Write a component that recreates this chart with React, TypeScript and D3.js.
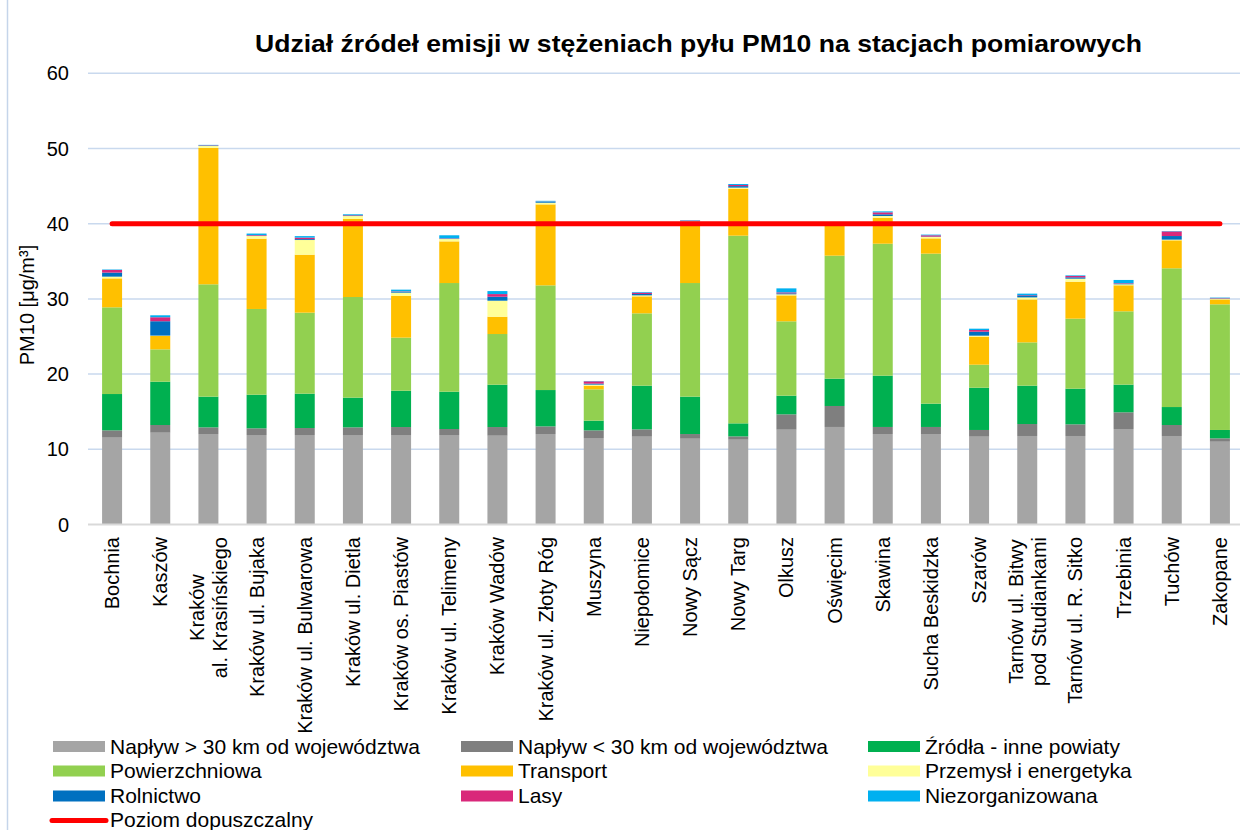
import React from "react";
import * as d3 from "d3";

const categories: string[] = [
  "Bochnia",
  "Kaszów",
  "Kraków\nal. Krasińskiego",
  "Kraków ul. Bujaka",
  "Kraków ul. Bulwarowa",
  "Kraków ul. Dietla",
  "Kraków os. Piastów",
  "Kraków ul. Telimeny",
  "Kraków Wadów",
  "Kraków ul. Złoty Róg",
  "Muszyna",
  "Niepołomice",
  "Nowy Sącz",
  "Nowy Targ",
  "Olkusz",
  "Oświęcim",
  "Skawina",
  "Sucha Beskidzka",
  "Szarów",
  "Tarnów ul. Bitwy\npod Studiankami",
  "Tarnów ul. R. Sitko",
  "Trzebinia",
  "Tuchów",
  "Zakopane",
];

const naplywPonad30: number[] = [11.55, 12.21, 12.03, 11.9, 11.9, 11.9, 11.9, 11.9, 11.81, 12.03, 11.5, 11.68, 11.41, 11.28, 12.61, 12.97, 12.03, 12.03, 11.68, 11.77, 11.77, 12.7, 11.77, 11.01];
const naplywPonizej30: number[] = [0.97, 1.02, 0.89, 0.89, 0.93, 1.02, 1.06, 0.8, 1.15, 1.02, 1.02, 0.97, 0.62, 0.44, 2.04, 2.79, 0.94, 0.94, 0.89, 1.59, 1.55, 2.22, 1.46, 0.45];
const zrodlaInnePowiaty: number[] = [4.83, 5.76, 4.08, 4.47, 4.57, 3.95, 4.83, 4.96, 5.63, 4.83, 1.29, 5.81, 4.97, 1.73, 2.48, 3.63, 6.82, 3.1, 5.62, 5.1, 4.74, 3.68, 2.39, 1.11];
const powierzchniowa: number[] = [11.53, 4.3, 14.94, 11.4, 10.77, 13.38, 7.06, 14.45, 6.74, 13.92, 4.16, 9.62, 15.11, 24.96, 9.89, 16.36, 17.55, 19.95, 3.06, 5.76, 9.31, 9.75, 18.45, 16.71];
const transport: number[] = [3.85, 1.78, 18.13, 9.35, 7.71, 10.38, 5.54, 5.54, 2.3, 10.77, 0.49, 2.26, 8.16, 6.25, 3.45, 4.15, 3.46, 2.03, 3.73, 5.71, 4.92, 3.46, 3.72, 0.65];
const przemysl: number[] = [0.23, 0.05, 0.26, 0.35, 1.95, 0.39, 0.44, 0.31, 2.13, 0.22, 0.14, 0.13, 0.05, 0.14, 0.14, 0.05, 0.22, 0.18, 0.13, 0.27, 0.4, 0.13, 0.09, 0.1];
const rolnictwo: number[] = [0.54, 1.91, 0.05, 0.05, 0.12, 0.08, 0.13, 0.05, 0.53, 0.1, 0.13, 0.18, 0.05, 0.2, 0.13, 0.05, 0.23, 0.05, 0.53, 0.27, 0.18, 0.05, 0.48, 0.05];
const lasy: number[] = [0.35, 0.53, 0.05, 0.08, 0.2, 0.05, 0.05, 0.05, 0.35, 0.05, 0.31, 0.18, 0.05, 0.15, 0.13, 0.05, 0.26, 0.18, 0.22, 0.05, 0.18, 0.09, 0.62, 0.05];
const niezorganizowana: number[] = [0.06, 0.26, 0.05, 0.2, 0.2, 0.1, 0.22, 0.4, 0.4, 0.1, 0.04, 0.09, 0.05, 0.13, 0.53, 0.05, 0.13, 0.09, 0.18, 0.18, 0.08, 0.44, 0.05, 0.05];

const limitValue = 40;
const yTicks: number[] = [0, 10, 20, 30, 40, 50, 60];

const seriesNames: string[] = [
  "Napływ > 30 km od województwa",
  "Napływ < 30 km od województwa",
  "Źródła - inne powiaty",
  "Powierzchniowa",
  "Transport",
  "Przemysł i energetyka",
  "Rolnictwo",
  "Lasy",
  "Niezorganizowana",
];
const seriesValues: number[][] = [
  naplywPonad30,
  naplywPonizej30,
  zrodlaInnePowiaty,
  powierzchniowa,
  transport,
  przemysl,
  rolnictwo,
  lasy,
  niezorganizowana,
];
const seriesColors: string[] = [
  "#a5a5a5",
  "#7f7f7f",
  "#00b050",
  "#92d050",
  "#ffc000",
  "#ffff99",
  "#0070c0",
  "#d9287a",
  "#00b0f0",
];
const limitName = "Poziom dopuszczalny";
const titleText = "Udział źródeł emisji w stężeniach pyłu PM10 na stacjach pomiarowych";

const FONT = "'Liberation Sans', Arial, Helvetica, sans-serif";

let measureCtx: CanvasRenderingContext2D | null = null;
function measure(text: string, size: number): number {
  if (!measureCtx) {
    const c = document.createElement("canvas");
    measureCtx = c.getContext("2d");
  }
  if (!measureCtx) return text.length * size * 0.5;
  measureCtx.font = `${size}px ${FONT}`;
  return measureCtx.measureText(text).width;
}

export default function App() {
  const W = 1240;
  const H = 830;
  const x = d3
    .scaleBand<number>()
    .domain(categories.map((_, i) => i))
    .range([88, 1244])
    .paddingInner(0.585)
    .paddingOuter(0.2925);
  const y = d3.scaleLinear().domain([0, 60]).range([524.5, 73.3]);

  const table = categories.map((_, i) => {
    const row: Record<string, number> = { idx: i };
    seriesNames.forEach((s, k) => (row[s] = seriesValues[k][i]));
    return row;
  });
  const stacked = d3.stack<Record<string, number>>().keys(seriesNames)(table);

  const bw = x.bandwidth();
  const cx = (i: number) => (x(i) as number) + bw / 2;

  const labelSize = 20;
  const labelTop = 537;
  const lineGap = 22.5;

  const legendCols = [53, 461, 868];
  const legendRows = [746.5, 771, 796, 820.5];

  return (
    <div style={{ position: "absolute", left: 0, top: 0 }}>
      <svg width={W} height={H} style={{ display: "block", background: "#fff" }} fontFamily={FONT}>
        <rect x={0} y={0} width={W} height={H} fill="#fff" />
        <line x1={7.5} x2={7.5} y1={0} y2={H} stroke="#c5d5ea" strokeWidth={1.5} />
        {/* gridlines */}
        {yTicks.slice(1).map((t) => (
          <line key={t} x1={88} x2={W} y1={y(t)} y2={y(t)} stroke="#c9d9ee" strokeWidth={1.5} />
        ))}
        {/* bars */}
        {stacked.map((layer, k) => (
          <g key={layer.key} fill={seriesColors[k]}>
            {layer.map((d, i) => (
              <rect
                key={i}
                x={x(i) as number}
                width={bw}
                y={y(d[1])}
                height={Math.max(0, y(d[0]) - y(d[1]))}
              />
            ))}
          </g>
        ))}
        {/* x axis */}
        <line x1={88} x2={W} y1={y(0)} y2={y(0)} stroke="#d9d9d9" strokeWidth={2} />
        {/* limit line */}
        <line
          x1={cx(0)}
          x2={cx(categories.length - 1)}
          y1={y(limitValue)}
          y2={y(limitValue)}
          stroke="#ff0000"
          strokeWidth={5}
          strokeLinecap="round"
        />
        {/* y tick labels */}
        {yTicks.map((t) => (
          <text key={t} x={69} y={y(t) + 7} textAnchor="end" fontSize={20} fill="#000">
            {t}
          </text>
        ))}
        {/* y title */}
        <text
          transform={`translate(34,305) rotate(-90)`}
          textAnchor="middle"
          fontSize={20}
          fill="#000"
        >
          PM10 [μg/m³]
        </text>
        {/* title */}
        <text
          x={255}
          y={52}
          fontSize={24}
          fontWeight="bold"
          fill="#000"
          textLength={887}
          lengthAdjust="spacingAndGlyphs"
        >
          {titleText}
        </text>
        {/* category labels */}
        {categories.map((c, i) => {
          const lines = c.split("\n");
          const maxW = Math.max(...lines.map((l) => measure(l, labelSize)));
          const centerY = labelTop + maxW / 2;
          const n = lines.length;
          return (
            <g key={i}>
              {lines.map((l, j) => {
                const offset = (j - (n - 1) / 2) * lineGap;
                const px = cx(i) + offset + 7;
                return (
                  <text
                    key={j}
                    transform={`translate(${px},${centerY}) rotate(-90)`}
                    textAnchor="middle"
                    fontSize={labelSize}
                    fill="#000"
                  >
                    {l}
                  </text>
                );
              })}
            </g>
          );
        })}
        {/* legend */}
        {seriesNames.map((s, k) => {
          const col = k % 3;
          const row = Math.floor(k / 3);
          const lx = legendCols[col];
          const ly = legendRows[row];
          return (
            <g key={s}>
              <rect x={lx} y={ly - 5.5} width={52} height={11} fill={seriesColors[k]} />
              <text x={lx + 57} y={ly + 7} fontSize={21} fill="#000">
                {s}
              </text>
            </g>
          );
        })}
        <g>
          <line
            x1={legendCols[0] - 1}
            x2={legendCols[0] + 53}
            y1={legendRows[3]}
            y2={legendRows[3]}
            stroke="#ff0000"
            strokeWidth={5}
            strokeLinecap="round"
          />
          <text x={legendCols[0] + 57} y={legendRows[3] + 6.5} fontSize={21} fill="#000">
            {limitName}
          </text>
        </g>
      </svg>
    </div>
  );
}
